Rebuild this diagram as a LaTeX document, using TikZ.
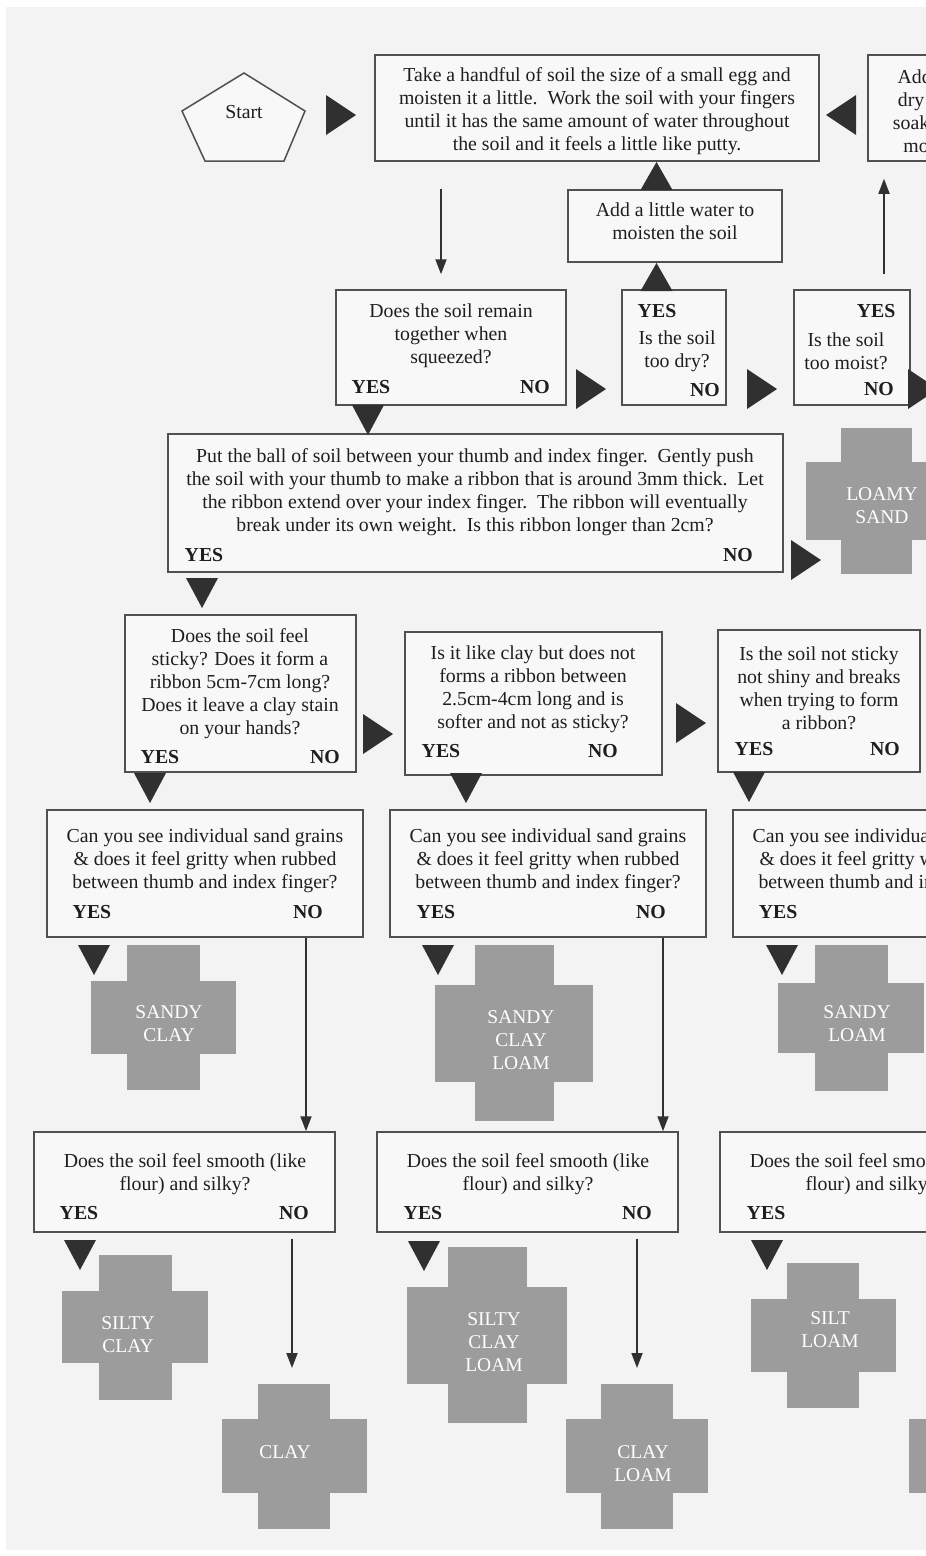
\documentclass[tikz,border=0pt]{standalone}
\usepackage{fontspec}
\setmainfont{Liberation Serif}
\usetikzlibrary{calc,arrows.meta}
\definecolor{pagebg}{HTML}{F3F3F3}
\definecolor{boxfill}{HTML}{F8F8F8}
\definecolor{boxline}{HTML}{505050}
\definecolor{tridark}{HTML}{303030}
\definecolor{crossgray}{HTML}{9C9C9C}
\definecolor{inkc}{HTML}{1E1E1E}
\tikzset{
  box/.style={draw=boxline, fill=boxfill, line width=1.5pt, inner sep=0pt},
  txt/.style={align=center, inner sep=0pt, text=inkc, font=\fontsize{19.8}{23}\selectfont},
  yn/.style={inner sep=0pt, text=inkc, font=\fontsize{19.8}{23}\selectfont\bfseries},
  crossfill/.style={fill=crossgray},
  crosstext/.style={align=center, inner sep=0pt, text=white, font=\fontsize{19.5}{23}\selectfont},
  tri/.style={fill=tridark},
  arr/.style={draw=tridark, line width=1.8pt, -{Triangle[length=15pt,width=11pt]}},
}
\newcommand{\flowbox}[5]{\node[box, minimum width={(#4)-(#2)}, minimum height={(#5)-(#3)}] (#1) at ({((#2)+(#4))/2},{((#3)+(#5))/2}) {};}
\newcommand{\soilcross}[6]{%
  \fill[crossfill] ({#1-#5/2},{#2-#6/2}) rectangle ({#1+#5/2},{#2+#6/2});
  \fill[crossfill] ({#1-#3/2},{#2-#4/2}) rectangle ({#1+#3/2},{#2+#4/2});}
\newcommand{\triR}[2]{\fill[tri] (#1,#2) -- ({#1-30},{#2-20}) -- ({#1-30},{#2+20}) -- cycle;}
\newcommand{\triL}[2]{\fill[tri] (#1,#2) -- ({#1+30},{#2-20}) -- ({#1+30},{#2+20}) -- cycle;}
\newcommand{\triD}[2]{\fill[tri] (#1,#2) -- ({#1-16},{#2-30}) -- ({#1+16},{#2-30}) -- cycle;}
\newcommand{\triU}[2]{\fill[tri] (#1,#2) -- ({#1-16},{#2+28}) -- ({#1+16},{#2+28}) -- cycle;}
\begin{document}
\begin{tikzpicture}[x=1pt,y=-1pt]
\path[use as bounding box] (0,0) rectangle (926,1556);
\clip (0,0) rectangle (926,1556);
\fill[white] (0,0) rectangle (926,1556);
\fill[pagebg] (6,7) rectangle (926,1550);

% start
\draw[draw=boxline, fill=boxfill, line width=1.5pt] (244,73) -- (305,111) -- (284,161) -- (205,161) -- (182,111) -- cycle;
\node[txt] (start) at (244,112) {Start};

% boxes
\flowbox{b1}{375}{55}{819}{161}
\flowbox{badd}{868}{55}{1008}{161}
\flowbox{water}{568}{190}{782}{262}
\flowbox{q1}{336}{290}{566}{405}
\flowbox{dry}{622}{290}{726}{405}
\flowbox{moist}{794}{290}{910}{405}
\flowbox{rib}{168}{434}{783}{572}
\flowbox{stk}{125}{615}{356}{772}
\flowbox{cl}{405}{632}{662}{775}
\flowbox{ns}{718}{630}{920}{772}
\flowbox{s1}{47}{810}{363}{937}
\flowbox{s2}{390}{810}{706}{937}
\flowbox{s3}{733}{810}{1049}{937}
\flowbox{m1}{34}{1132}{335}{1232}
\flowbox{m2}{377}{1132}{678}{1232}
\flowbox{m3}{720}{1132}{1021}{1232}

% texts
\node[txt] (b1t) at (597,111) {Take a handful of soil the size of a small egg and\\moisten it a little.\ \ Work the soil with your fingers\\until it has the same amount of water throughout\\the soil and it feels a little like putty.};
\node[txt] (baddt) at (938,111) {Add some\\dry soil to\\soak up the\\moisture};
\node[txt] (watert) at (675,221) {Add a little water to\\moisten the soil};
\node[txt] (q1t) at (451,336) {Does the soil remain\\together when\\squeezed?};
\node[txt] (dryt) at (677,351) {Is the soil\\too dry?};
\node[txt] (moistt) at (846,351) {Is the soil\\too moist?};
\node[txt] (ribt) at (475,492) {Put the ball of soil between your thumb and index finger.\ \ Gently push\\the soil with your thumb to make a ribbon that is around 3mm thick.\ \ Let\\the ribbon extend over your index finger.\ \ The ribbon will eventually\\break under its own weight.\ \ Is this ribbon longer than 2cm?};
\node[txt] (stkt) at (240,684) {Does the soil feel\\sticky? Does it form a\\ribbon 5cm-7cm long?\\Does it leave a clay stain\\on your hands?};
\node[txt] (clt) at (533,689) {Is it like clay but does not\\forms a ribbon between\\2.5cm-4cm long and is\\softer and not as sticky?};
\node[txt] (nst) at (819,688) {Is the soil not sticky\\not shiny and breaks\\when trying to form\\a ribbon?};
\node[txt] (s1t) at (205,861) {Can you see individual sand grains\\\& does it feel gritty when rubbed\\between thumb and index finger?};
\node[txt] (s2t) at (548,861) {Can you see individual sand grains\\\& does it feel gritty when rubbed\\between thumb and index finger?};
\node[txt] (s3t) at (891,861) {Can you see individual sand grains\\\& does it feel gritty when rubbed\\between thumb and index finger?};
\node[txt] (m1t) at (185,1174) {Does the soil feel smooth (like\\flour) and silky?};
\node[txt] (m2t) at (528,1174) {Does the soil feel smooth (like\\flour) and silky?};
\node[txt] (m3t) at (871,1174) {Does the soil feel smooth (like\\flour) and silky?};

% yes / no
\node[yn] (q1y) at (371,387) {YES};
\node[yn] (q1n) at (535,387) {NO};
\node[yn] (dryy) at (657,311) {YES};
\node[yn] (dryn) at (705,390) {NO};
\node[yn] (moisty) at (876,311) {YES};
\node[yn] (moistn) at (879,389) {NO};
\node[yn] (riby) at (204,555) {YES};
\node[yn] (ribn) at (738,555) {NO};
\node[yn] (stky) at (160,757) {YES};
\node[yn] (stkn) at (325,757) {NO};
\node[yn] (cly) at (441,751) {YES};
\node[yn] (cln) at (603,751) {NO};
\node[yn] (nsy) at (754,749) {YES};
\node[yn] (nsn) at (885,749) {NO};
\node[yn] (s1y) at (92,912) {YES};
\node[yn] (s1n) at (308,912) {NO};
\node[yn] (s2y) at (436,912) {YES};
\node[yn] (s2n) at (651,912) {NO};
\node[yn] (s3y) at (778,912) {YES};
\node[yn] (m1y) at (79,1213) {YES};
\node[yn] (m1n) at (294,1213) {NO};
\node[yn] (m2y) at (423,1213) {YES};
\node[yn] (m2n) at (637,1213) {NO};
\node[yn] (m3y) at (766,1213) {YES};

% crosses
\soilcross{876}{501}{71}{146}{140}{78}
\soilcross{163}{1017}{73}{145}{145}{73}
\soilcross{514}{1033}{79}{176}{158}{97}
\soilcross{851}{1018}{73}{146}{146}{70}
\soilcross{135}{1327}{73}{145}{146}{72}
\soilcross{487}{1335}{79}{176}{160}{97}
\soilcross{823}{1335}{72}{145}{145}{73}
\soilcross{294}{1456}{72}{145}{145}{74}
\soilcross{637}{1456}{72}{145}{142}{74}
\soilcross{981}{1456}{72}{145}{145}{74}
\node[crosstext] (loamysand) at (882,506) {LOAMY\\SAND};
\node[crosstext] (sandyclay) at (169,1024) {SANDY\\CLAY};
\node[crosstext] (sandyclayloam) at (521,1040) {SANDY\\CLAY\\LOAM};
\node[crosstext] (sandyloam) at (857,1024) {SANDY\\LOAM};
\node[crosstext] (siltyclay) at (128,1335) {SILTY\\CLAY};
\node[crosstext] (siltyclayloam) at (494,1342) {SILTY\\CLAY\\LOAM};
\node[crosstext] (siltloam) at (830,1330) {SILT\\LOAM};
\node[crosstext] (clay) at (285,1452) {CLAY};
\node[crosstext] (clayloam) at (643,1464) {CLAY\\LOAM};

% triangle pointers
\triR{356}{115}
\triL{826}{115}
\triU{656.5}{162}
\triU{656.5}{263}
\triR{606}{389}
\triR{777}{389}
\triR{938}{389}
\triD{368}{435}
\triR{821}{560}
\triD{202}{608}
\triR{393}{734}
\triR{706}{723}
\triD{150}{803}
\triD{466}{803}
\triD{749}{802}
\triD{94}{975}
\triD{438}{975}
\triD{782}{975}
\triD{80}{1270}
\triD{424}{1271}
\triD{767}{1270}

% line arrows
\draw[arr] ($(b1.south)+(-156,27)$) -- ($(q1.north)+(-10,-15)$);
\draw[arr] ($(moist.north)+(32,-15)$) -- ($(badd.south)+(-54,17)$);
\draw[arr] ($(s1.south)+(101,0)$) -- ($(m1.north)+(121.5,0)$);
\draw[arr] ($(s2.south)+(115,0)$) -- ($(m2.north)+(135.5,0)$);
\draw[arr] ($(m1.south)+(107.5,6)$) -- ($(clay)+(7,-84)$);
\draw[arr] ($(m2.south)+(109.5,6)$) -- ($(clayloam)+(-6,-96)$);
\end{tikzpicture}
\end{document}
